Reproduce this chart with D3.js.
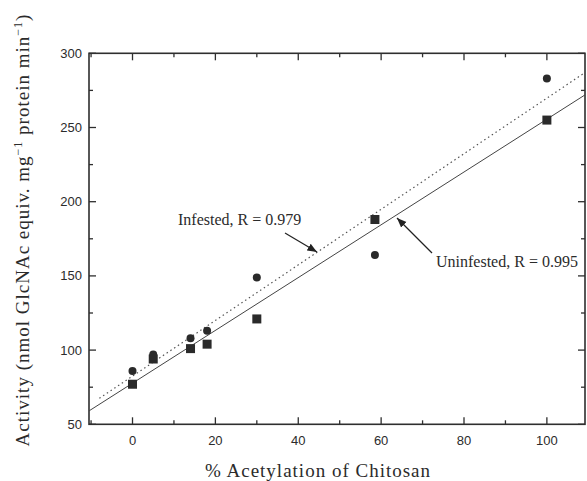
<!DOCTYPE html>
<html>
<head>
<meta charset="utf-8">
<script src="https://cdn.jsdelivr.net/npm/d3@7"></script>
<style>
body { margin: 0; background: #fff; }
svg text { fill: #2b2b2b; }
</style>
</head>
<body>
<svg width="587" height="481"></svg>
<script>
var acetylation = [0, 5, 14, 18, 30, 58.5, 100];
var infested = [86, 97, 108, 113, 149, 164, 283];
var uninfested = [77, 94, 101, 104, 121, 188, 255];

// fitted lines: [intercept, slope]
var infestedFit = [82.5, 1.873];
var uninfestedFit = [77.7, 1.779];

var xTicks = [0, 20, 40, 60, 80, 100];
var yTicks = [50, 100, 150, 200, 250, 300];

var svg = d3.select('svg');
var ink = '#2e2e2e';

var x = d3.scaleLinear().domain([-10.5, 109.2]).range([89, 585]);
var y = d3.scaleLinear().domain([50, 300]).range([424.3, 53.3]);

var plot = svg.append('g');

/*
	ticks, all pointing inward
*/
var xMinor = d3.range(-10, 110, 10);
var yMinor = d3.range(50, 301, 25);

function tickLen(v, step) { return (v % step === 0) ? 7 : 4; }

xMinor.forEach(function (v) {
	var l = tickLen(v, 20);
	plot.append('line').attr('x1', x(v)).attr('x2', x(v)).attr('y1', y(50)).attr('y2', y(50) - l)
		.attr('stroke', ink).attr('stroke-width', 1.3);
	plot.append('line').attr('x1', x(v)).attr('x2', x(v)).attr('y1', y(300)).attr('y2', y(300) + l)
		.attr('stroke', ink).attr('stroke-width', 1.3);
});

yMinor.forEach(function (v) {
	var l = tickLen(v, 50);
	plot.append('line').attr('x1', x(-10.5)).attr('x2', x(-10.5) + l).attr('y1', y(v)).attr('y2', y(v))
		.attr('stroke', ink).attr('stroke-width', 1.3);
	plot.append('line').attr('x1', x(109.2)).attr('x2', x(109.2) - l).attr('y1', y(v)).attr('y2', y(v))
		.attr('stroke', ink).attr('stroke-width', 1.3);
});

// frame
plot.append('rect').attr('x', x(-10.5)).attr('y', y(300))
	.attr('width', x(109.2) - x(-10.5)).attr('height', y(50) - y(300))
	.attr('fill', 'none').attr('stroke', ink).attr('stroke-width', 1.6);

// tick labels
svg.selectAll('.xl').data(xTicks).enter().append('text')
	.attr('x', function (d) { return x(d); }).attr('y', 445)
	.attr('text-anchor', 'middle')
	.style('font-family', 'Liberation Sans, Arial, sans-serif').style('font-size', '13px')
	.text(function (d) { return d; });

svg.selectAll('.yl').data(yTicks).enter().append('text')
	.attr('x', 82).attr('y', function (d) { return y(d) + 4.5; })
	.attr('text-anchor', 'end')
	.style('font-family', 'Liberation Sans, Arial, sans-serif').style('font-size', '13px')
	.text(function (d) { return d; });

/*
	fit lines
*/
var clip = svg.append('clipPath').attr('id', 'clip').append('rect')
	.attr('x', x(-10.5)).attr('y', y(300)).attr('width', x(109.2) - x(-10.5)).attr('height', y(50) - y(300));

var line = d3.line().x(function (d) { return x(d[0]); }).y(function (d) { return y(d[1]); });

function fitPoints(fit, from, to) {
	return [[from, fit[0] + fit[1] * from], [to, fit[0] + fit[1] * to]];
}

svg.append('path').attr('d', line(fitPoints(infestedFit, -8, 109.2)))
	.attr('clip-path', 'url(#clip)')
	.attr('fill', 'none').attr('stroke', '#555').attr('stroke-width', 1.2).attr('stroke-dasharray', '1.5,3');

svg.append('path').attr('d', line(fitPoints(uninfestedFit, -10.5, 109.2)))
	.attr('clip-path', 'url(#clip)')
	.attr('fill', 'none').attr('stroke', '#444').attr('stroke-width', 1);

/*
	points
*/
svg.selectAll('.inf').data(acetylation).enter().append('circle')
	.attr('cx', function (d) { return x(d); })
	.attr('cy', function (d, i) { return y(infested[i]); })
	.attr('r', 4).attr('fill', '#2a2a2a');

svg.selectAll('.uninf').data(acetylation).enter().append('rect')
	.attr('x', function (d) { return x(d) - 4.5; })
	.attr('y', function (d, i) { return y(uninfested[i]) - 4.5; })
	.attr('width', 9).attr('height', 9).attr('fill', '#2a2a2a');

/*
	annotations
*/
svg.append('defs').append('marker').attr('id', 'arrow')
	.attr('viewBox', '0 0 10 10').attr('refX', 10).attr('refY', 5)
	.attr('markerWidth', 8).attr('markerHeight', 8).attr('orient', 'auto')
	.append('path').attr('d', 'M0,1 L10,5 L0,9 Z').attr('fill', '#222');

svg.append('text').attr('x', 178).attr('y', 225)
	.style('font-family', 'Liberation Serif, Times New Roman, serif').style('font-size', '16px')
	.text('Infested, R = 0.979');

svg.append('line').attr('x1', 285).attr('y1', 233).attr('x2', 317).attr('y2', 252)
	.attr('stroke', '#222').attr('stroke-width', 1.2).attr('marker-end', 'url(#arrow)');

svg.append('text').attr('x', 436).attr('y', 267)
	.style('font-family', 'Liberation Serif, Times New Roman, serif').style('font-size', '16px')
	.text('Uninfested, R = 0.995');

svg.append('line').attr('x1', 432).attr('y1', 253).attr('x2', 397).attr('y2', 218)
	.attr('stroke', '#222').attr('stroke-width', 1.2).attr('marker-end', 'url(#arrow)');

/*
	axis titles
*/
svg.append('text').attr('x', 318).attr('y', 477).attr('text-anchor', 'middle')
	.style('font-family', 'Liberation Serif, Times New Roman, serif').style('font-size', '19px')
	.style('letter-spacing', '1px')
	.text('% Acetylation of Chitosan');

var yt = svg.append('text').attr('transform', 'translate(29,230) rotate(-90)')
	.attr('text-anchor', 'middle')
	.style('font-family', 'Liberation Serif, Times New Roman, serif').style('font-size', '19px')
	.style('letter-spacing', '1px');
yt.append('tspan').text('Activity (nmol GlcNAc equiv. mg');
yt.append('tspan').attr('dy', -7).style('font-size', '12px').text('\u22121');
yt.append('tspan').attr('dy', 7).text(' protein min');
yt.append('tspan').attr('dy', -7).style('font-size', '12px').text('\u22121');
yt.append('tspan').attr('dy', 7).text(')');
</script>
</body>
</html>
